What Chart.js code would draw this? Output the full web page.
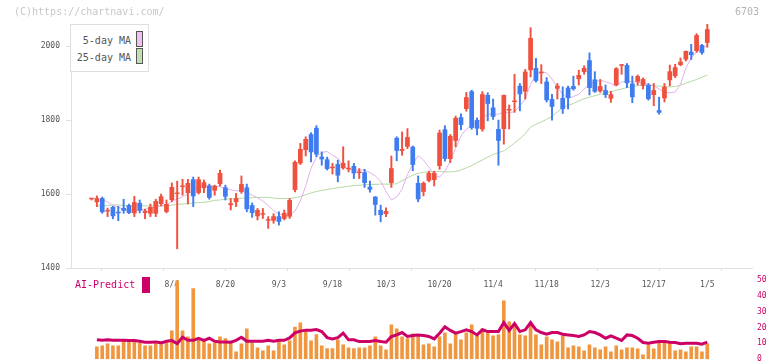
<!DOCTYPE html>
<html>
<head>
<meta charset="utf-8">
<script src="https://cdn.jsdelivr.net/npm/chart.js@4.4.1/dist/chart.umd.min.js"></script>
<style>
  body { margin: 0; background: #fff; }
  #wrap { position: relative; width: 772px; height: 361px; overflow: hidden; font-family: "DejaVu Sans Mono", monospace; }
  #wrap canvas { position: absolute; left: 0; }
  #priceChart { top: 0; z-index: 1; }
  #volChart { top: 270px; z-index: 2; }
  .txt { position: absolute; white-space: nowrap; z-index: 3; }
  #copy { left: 14px; top: 6px; font-size: 10px; color: #c8c8c8; }
  #code { left: 735px; top: 6px; font-size: 10px; color: #b4b4b4; }
  #legendBox { position: absolute; left: 70px; top: 24px; width: 77px; height: 46px; border: 1px solid #dedede; background: #fff; z-index: 3; }
  .lgText { position: absolute; right: 17px; font-size: 10px; color: #555; }
  .lgSwatch { position: absolute; left: 65px; width: 5px; height: 14px; border: 1px solid #555; }
  #aiLabel { left: 75px; top: 279px; font-size: 10px; color: #cc0066; }
  #aiSwatch { position: absolute; left: 142px; top: 277px; width: 8px; height: 16px; background: #cc0066; z-index: 3; }
</style>
</head>
<body>
<div id="wrap">
  <canvas id="priceChart" width="772" height="300"></canvas>
  <canvas id="volChart" width="772" height="99"></canvas>
  <div class="txt" id="copy">(C)https://chartnavi.com/</div>
  <div class="txt" id="code">6703</div>
  <div id="legendBox">
    <div class="lgText" style="top:10px">5-day MA</div>
    <div class="lgSwatch" style="top:6px;background:#f0c0f0"></div>
    <div class="lgText" style="top:27px">25-day MA</div>
    <div class="lgSwatch" style="top:23px;background:#bfe0b0"></div>
  </div>
  <div class="txt" id="aiLabel">AI-Predict</div>
  <div id="aiSwatch"></div>
</div>
<script>
// -------------------- Data --------------------
const tickIndex = [15, 25, 35, 45, 55, 65, 75, 85, 95, 105, 115];
const tickLabels = ['8/4', '8/20', '9/3', '9/18', '10/3', '10/20', '11/4', '11/18', '12/3', '12/17', '1/5'];

const openP = [1586,1578,1589,1553,1565,1550,1562,1570,1548,1576,1549,1547,1547,1573,1552,1584,1600,1619,1603,1640,
  1603,1616,1622,1609,1627,1618,1570,1578,1606,1618,1570,1540,1544,1528,1528,1540,1533,1539,1611,1683,
  1719,1762,1779,1701,1694,1670,1681,1670,1667,1676,1657,1659,1620,1593,1557,1546,1630,1752,1717,1728,
  1728,1630,1606,1636,1638,1676,1775,1695,1744,1808,1830,1878,1800,1775,1868,1834,1776,1776,1826,1849,
  1893,1877,1935,1941,1927,1904,1857,1885,1860,1888,1892,1911,1930,1962,1910,1878,1881,1858,1895,1947,
  1949,1899,1904,1893,1895,1868,1827,1859,1908,1919,1949,1964,1985,1987,2003,2009];
const highP = [1588,1595,1592,1562,1567,1567,1586,1573,1594,1584,1559,1573,1586,1600,1584,1630,1635,1640,1640,1646,
  1646,1638,1627,1624,1665,1624,1588,1602,1649,1627,1576,1561,1561,1539,1547,1552,1557,1588,1690,1737,
  1755,1766,1785,1714,1700,1683,1692,1728,1690,1683,1669,1667,1635,1593,1570,1563,1703,1755,1768,1777,
  1730,1649,1633,1662,1662,1773,1785,1761,1811,1817,1875,1881,1806,1877,1874,1857,1800,1868,1841,1924,
  1899,1937,2050,1967,1950,1915,1870,1899,1890,1892,1919,1935,1947,1982,1931,1910,1895,1878,1942,1951,
  1953,1919,1922,1914,1899,1899,1862,1899,1949,1951,1968,1987,2005,2034,2005,2059];
const lowP = [1584,1566,1548,1539,1533,1528,1548,1547,1539,1549,1533,1539,1539,1568,1549,1579,1452,1597,1573,1566,
  1600,1604,1586,1597,1622,1584,1557,1566,1602,1552,1537,1530,1534,1507,1521,1516,1530,1534,1606,1680,
  1703,1687,1701,1678,1665,1654,1633,1667,1660,1642,1642,1618,1605,1543,1525,1539,1618,1690,1705,1723,
  1663,1579,1595,1633,1622,1667,1689,1685,1728,1774,1824,1775,1760,1770,1798,1802,1678,1735,1776,1821,
  1825,1857,1917,1903,1899,1849,1800,1857,1818,1830,1881,1895,1924,1868,1875,1875,1861,1848,1893,1924,
  1888,1847,1895,1884,1854,1839,1816,1849,1893,1915,1947,1960,1964,1983,1978,1997];
const closeP = [1587,1589,1551,1556,1540,1548,1555,1549,1578,1555,1555,1565,1581,1594,1573,1619,1603,1622,1630,1594,
  1640,1632,1590,1622,1657,1593,1575,1589,1627,1559,1549,1557,1546,1530,1540,1525,1549,1584,1687,1722,
  1749,1713,1707,1694,1668,1673,1650,1684,1670,1656,1660,1630,1612,1571,1543,1554,1670,1717,1722,1754,
  1679,1586,1630,1657,1657,1766,1695,1757,1806,1787,1862,1779,1777,1870,1844,1809,1744,1868,1830,1851,
  1870,1931,2022,1906,1930,1854,1836,1893,1830,1860,1884,1922,1941,1887,1877,1892,1868,1870,1940,1950,
  1900,1862,1919,1911,1857,1881,1820,1890,1932,1943,1958,1987,1976,2030,1982,2046];

const ma5 = [null,null,1586,1578,1570,1564,1559,1555,1555,1557,1559,1562,1565,1568,1570,1581,1586,1593,1600,1611,
  1620,1624,1623,1622,1620,1615,1611,1609,1608,1604,1597,1590,1581,1569,1555,1546,1542,1542,1554,1581,
  1622,1670,1700,1713,1715,1705,1697,1673,1668,1665,1665,1665,1658,1649,1635,1607,1584,1592,1613,1653,
  1681,1704,1692,1673,1651,1646,1662,1689,1724,1757,1776,1784,1795,1805,1816,1816,1816,1822,1820,1823,
  1838,1857,1897,1922,1930,1928,1911,1888,1870,1859,1864,1870,1884,1897,1903,1908,1904,1899,1891,1903,
  1905,1904,1903,1900,1897,1893,1884,1876,1874,1876,1897,1941,1968,1984,1993,2003];
const ma25 = [null,1568,1568,1569,1570,1571,1569,1568,1568,1568,1568,1568,1568,1568,1568,1570,1572,1573,1574,1576,
  1577,1578,1580,1583,1584,1586,1587,1588,1589,1589,1590,1591,1591,1591,1589,1588,1588,1588,1590,1593,
  1598,1603,1607,1610,1612,1615,1617,1619,1621,1623,1624,1625,1626,1626,1627,1627,1627,1628,1636,1644,
  1651,1656,1659,1660,1661,1661,1660,1660,1661,1665,1671,1677,1685,1692,1700,1707,1712,1717,1727,1738,
  1750,1763,1781,1789,1795,1802,1810,1822,1834,1840,1845,1852,1858,1862,1866,1870,1873,1877,1881,1884,
  1888,1891,1893,1895,1894,1893,1892,1891,1890,1891,1895,1900,1905,1910,1916,1922];

const volume = [null,1270,1370,1570,1370,1370,1840,1840,1840,1640,1370,1370,1640,1500,1770,2870,7870,2870,2270,7100,
  2170,1840,1570,1640,2270,2100,1640,770,1570,3070,1640,1170,870,1370,870,1940,1470,1870,3240,3670,
  2970,1870,2500,1370,1100,1100,1970,1470,1170,1100,1170,1170,1370,2270,1370,970,3470,3070,2270,2100,
  2570,2270,1470,1570,1270,2270,2670,1570,2570,1970,2670,3470,2370,3070,2670,2370,2470,5870,3770,3470,
  2470,2370,3370,2470,1470,2270,1970,1770,2370,1170,1370,1270,870,1470,1170,970,1270,770,1370,970,
  1170,1170,1070,470,1470,1070,1670,1870,1670,870,970,770,1270,1270,770,1570];
const aiPredict = [null,12.3,11.9,12.3,11.9,11.9,11.9,11.7,11.7,11.3,10.7,10.7,10.9,10.3,11.3,11.7,9.8,13.8,11.9,11.9,
  13.2,11.9,13.2,11.3,10.9,10.9,10.7,11.9,13.8,11.3,11.3,11.3,11.3,11.9,11.3,11.9,11.9,13.4,16.6,17.7,
  18.3,18.3,18.7,17.4,13.6,12.8,13.6,16.4,12.2,12.2,11.1,11.1,11.1,11.7,11.1,10.7,14.3,15.3,16.8,14.3,
  14.9,15.3,14.9,14.3,12.8,16.4,20.4,18.1,16.4,17.4,18.5,17.4,15.3,18.5,17.4,17.4,17.4,23.1,18.1,22.5,
  17.4,18.5,23.1,18.5,16.8,15.7,16.8,16.8,15.7,15.3,14.9,14.3,15.3,17.4,16.8,15.3,13.2,14.7,13.2,11.8,
  15.3,14.9,13.2,10.5,10.1,10.7,11.1,11.1,10.7,10.5,9.7,10.1,10.1,10.1,9.5,10.7];

// -------------------- Setup --------------------
const MONO = '"DejaVu Sans Mono", monospace';
const UP = '#f0503e';
const DOWN = '#3f7cf0';
const X_MIN = -3.83;
const X_MAX = 123.35;

Chart.defaults.font.family = MONO;
Chart.defaults.animation = false;

const candleColors = openP.map((o, i) => closeP[i] >= o ? UP : DOWN);
const pts = arr => arr.map((v, i) => ({ x: i, y: v }));

// -------------------- Price Chart --------------------
new Chart(document.getElementById('priceChart'), {
  type: 'bar',
  data: {
    datasets: [
      {
        type: 'line', label: '5-day MA', data: pts(ma5),
        borderColor: '#e2b0ee', borderWidth: 1, pointRadius: 0, order: 4
      },
      {
        type: 'line', label: '25-day MA', data: pts(ma25),
        borderColor: '#b4daa4', borderWidth: 1, pointRadius: 0, order: 5
      },
      {
        label: 'wick', data: lowP.map((l, i) => ({ x: i, y: [l, highP[i]] })),
        backgroundColor: candleColors, barThickness: 1.3, grouped: false, order: 2
      },
      {
        label: 'body', data: openP.map((o, i) => ({ x: i, y: [o, closeP[i]] })),
        backgroundColor: candleColors, barPercentage: 0.88, categoryPercentage: 1,
        minBarLength: 1.5, grouped: false, order: 1
      }
    ]
  },
  options: {
    responsive: false,
    devicePixelRatio: 1,
    layout: { padding: { top: 24, right: 20, bottom: 8, left: 0 } },
    plugins: { legend: { display: false }, tooltip: { enabled: false } },
    scales: {
      x: {
        type: 'linear', min: X_MIN, max: X_MAX, offset: false, position: 'bottom', weight: 1,
        grid: { display: false, drawTicks: false, offset: false }, border: { display: false },
        afterBuildTicks: s => { s.ticks = tickIndex.map(v => ({ value: v })); },
        afterFit: s => { s.height = 20; },
        ticks: {
          autoSkip: false, maxRotation: 0, padding: 8, color: '#555',
          font: { size: 8 }, callback: v => tickLabels[tickIndex.indexOf(v)]
        }
      },
      xg: {
        type: 'linear', min: 0, max: 11, offset: false, position: 'bottom', weight: 0,
        grid: { drawOnChartArea: false, tickLength: 3, color: '#e0e0e0' },
        border: { color: '#e0e0e0' },
        ticks: { display: false, stepSize: 1 },
        afterFit: s => { s.height = 4; }
      },
      y: {
        min: 1400, max: 2060, position: 'left',
        grid: { drawOnChartArea: false, tickLength: 5, color: '#e0e0e0' },
        border: { color: '#e0e0e0' },
        afterBuildTicks: s => { s.ticks = s.ticks.filter(t => t.value % 200 === 0); },
        afterFit: s => { s.width = 71; },
        ticks: { stepSize: 200, padding: 6, color: '#555', font: { size: 8 }, callback: v => String(v) }
      }
    }
  }
});

// -------------------- Volume + AI-Predict Chart --------------------
new Chart(document.getElementById('volChart'), {
  type: 'bar',
  data: {
    datasets: [
      {
        type: 'line', label: 'AI-Predict', data: pts(aiPredict), yAxisID: 'yAI',
        borderColor: '#cc0066', borderWidth: 3, pointRadius: 0, order: 0
      },
      {
        label: 'Volume', data: pts(volume), yAxisID: 'yVol',
        backgroundColor: '#f0963f', barPercentage: 0.68, categoryPercentage: 1, order: 1
      }
    ]
  },
  options: {
    responsive: false,
    devicePixelRatio: 1,
    layout: { padding: { top: 8, right: 0, bottom: 3, left: 71 } },
    plugins: { legend: { display: false }, tooltip: { enabled: false } },
    scales: {
      x: { type: 'linear', min: X_MIN, max: X_MAX, offset: false, display: false },
      yVol: { min: 0, max: 7940, display: false },
      yAI: {
        min: 0, max: 50, position: 'right',
        grid: { display: false, drawTicks: false }, border: { display: false },
        afterFit: s => { s.width = 20; },
        ticks: { stepSize: 10, padding: 5, color: '#cc0066', font: { size: 8 } }
      }
    }
  }
});
</script>
</body>
</html>
